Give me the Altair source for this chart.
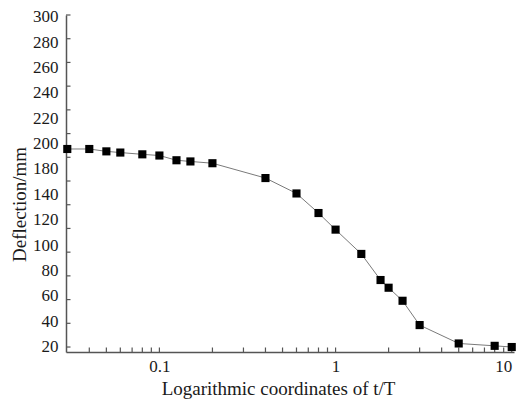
import json
import altair as alt
import numpy as np
import pandas as pd

# ---- data ----
t_over_T = [0.03, 0.04, 0.05, 0.06, 0.08, 0.1, 0.125, 0.15, 0.2, 0.4, 0.6, 0.8,
            1.0, 1.4, 1.8, 2.0, 2.4, 3.0, 5.0, 8.0, 10.0]
deflection = [187, 187, 185, 184, 182.5, 181.5, 177.5, 176.5, 175, 162.5, 149.5, 133,
              119, 98.5, 76.5, 70, 59, 38.5, 23, 21, 20]

y_tick_values = [20, 40, 60, 80, 100, 120, 140, 160, 180, 200, 220, 240, 260, 280, 300]
y_label_texts = ["300", "280", "260", "240", "220", "200", "180",
                 "140", "120", "100", "80", "60", "40", "20"]
x_tick_values = [0.04, 0.05, 0.06, 0.07, 0.08, 0.09, 0.1,
                 0.2, 0.3, 0.4, 0.5, 0.6, 0.7, 0.8, 0.9, 1,
                 2, 3, 4, 5, 6, 7, 8, 9, 10]
x_label_values = [0.1, 1, 10]

# ---- layout ----
W, H = 448, 337
PAD_L, PAD_T, PAD_R, PAD_B = 58, 7, 2, 49
X_MIN, X_MAX = 0.0295, 10.3
Y_MIN, Y_MAX = 15.8, 300
px_per_unit = H / (Y_MAX - Y_MIN)
px_per_decade = W / np.log10(X_MAX / X_MIN)
TICK = 4.5

# labels of the original are evenly spaced (one label, 160, is missing)
lab_top, lab_bot = 298.6, 20.25
label_pos = [float(v) for v in np.linspace(lab_top, lab_bot, len(y_label_texts))]
step = (lab_top - lab_bot) / (len(y_label_texts) - 1)
label_expr = f"{json.dumps(y_label_texts)}[round(({lab_top} - datum.value) / {step})]"

FONT = "Liberation Serif"
AX_COLOR = "#555555"
TXT = "#1a1a1a"

x_scale = alt.Scale(type="log", domain=[X_MIN, X_MAX], nice=False)
y_scale = alt.Scale(domain=[Y_MIN, Y_MAX], nice=False, zero=False)

df = pd.DataFrame({"t": t_over_T, "d": deflection})

x_axis = alt.Axis(values=x_label_values, format="~g", ticks=False, grid=False,
                  domainColor=AX_COLOR, domainWidth=1.5,
                  labelFont=FONT, labelFontSize=17, labelColor=TXT,
                  labelPadding=6, labelFlush=8, labelOverlap=False,
                  title="Logarithmic coordinates of t/T", titleFont=FONT,
                  titleFontSize=19, titleFontWeight="normal", titleColor=TXT,
                  titleAnchor="start", titleAlign="center", titleBaseline="alphabetic",
                  titleX=212, titleY=42)
y_axis = alt.Axis(values=label_pos, labelExpr=label_expr, ticks=False, grid=False,
                  domainColor=AX_COLOR, domainWidth=1.5,
                  labelFont=FONT, labelFontSize=17, labelColor=TXT,
                  labelPadding=8, labelFlush=False, labelOverlap=False,
                  title="Deflection/mm", titleFont=FONT, titleFontSize=19,
                  titleFontWeight="normal", titleColor=TXT,
                  titleAngle=270, titleAlign="center", titleBaseline="alphabetic",
                  titleX=-41, titleY=189)

base = alt.Chart(df).encode(
    x=alt.X("t:Q", scale=x_scale, axis=x_axis),
    y=alt.Y("d:Q", scale=y_scale, axis=y_axis),
)
line = base.mark_line(color="#7a7a7a", strokeWidth=1)
points = base.mark_point(shape="square", filled=True, color="black", size=66, opacity=1)

xt = alt.Chart(pd.DataFrame({"xt": x_tick_values})).mark_rule(
    color=AX_COLOR, strokeWidth=1.2).encode(
    x=alt.X("xt:Q", scale=x_scale, axis=x_axis),
    y=alt.Y(datum=Y_MIN, scale=y_scale, axis=y_axis),
    y2=alt.Y2(datum=Y_MIN + TICK / px_per_unit),
)
yt = alt.Chart(pd.DataFrame({"yt": y_tick_values})).mark_rule(
    color=AX_COLOR, strokeWidth=1.2).encode(
    y=alt.Y("yt:Q", scale=y_scale, axis=y_axis),
    x=alt.X(datum=X_MIN, scale=x_scale, axis=x_axis),
    x2=alt.X2(datum=X_MIN * 10 ** (TICK / px_per_decade)),
)

chart = alt.layer(line, xt, yt, points).properties(
    width=W, height=H,
    autosize=alt.AutoSizeParams(type="none"),
    padding={"left": PAD_L, "top": PAD_T, "right": PAD_R, "bottom": PAD_B},
    background="white",
).configure_view(stroke=None)

chart.save("out.html", embed_options={"renderer": "svg", "actions": False})
